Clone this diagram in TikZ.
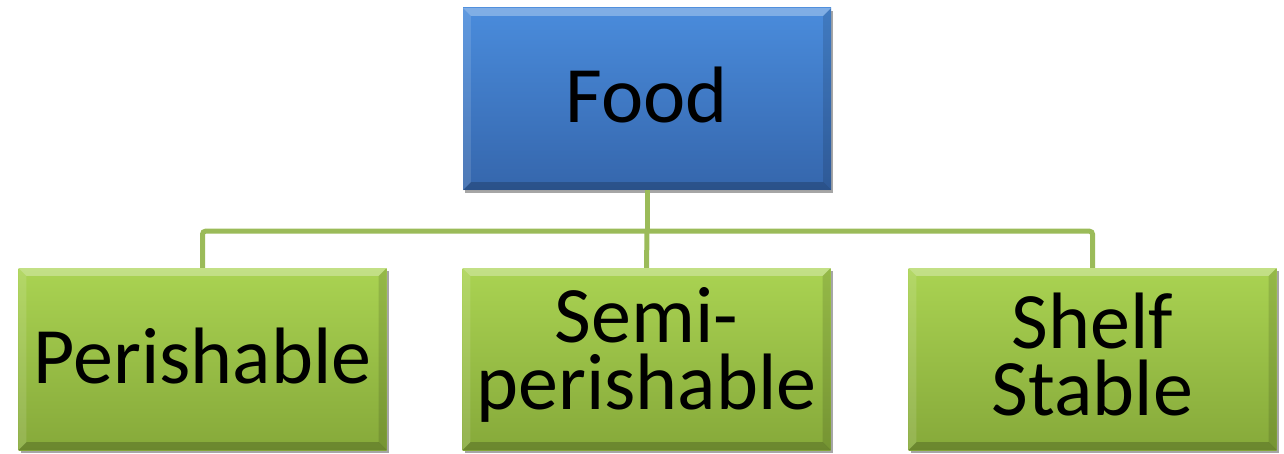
\documentclass[tikz,border=0pt]{standalone}
\usepackage{fontspec}
\setmainfont{Carlito}
\usetikzlibrary{calc,shadows}
\definecolor{bluetop}{HTML}{4A8CDC}
\definecolor{bluebot}{HTML}{3566AC}
\definecolor{greentop}{HTML}{AAD352}
\definecolor{greenbot}{HTML}{86A93A}
\definecolor{conncol}{HTML}{9BBB59}
\tikzset{
  box/.style={minimum width=368pt, minimum height=182pt, inner sep=0pt,
    drop shadow={opacity=0.35, shadow xshift=2pt, shadow yshift=-3pt, fill=black}},
  bluebox/.style={box, top color=bluetop, bottom color=bluebot},
  greenbox/.style={box, top color=greentop, bottom color=greenbot},
  boxtext/.style={inner sep=0pt, align=center, font=\fontsize{80}{67}\selectfont, text=black},
  conn/.style={draw=conncol, line width=5pt, rounded corners=3pt},
}
\begin{document}
\begin{tikzpicture}[x=1pt,y=-1pt]
\useasboundingbox (0,0) rectangle (1284,454);
\fill[white] (0,0) rectangle (1284,454);
\node[bluebox] (f) at (647,99) {};
\node[greenbox] (p) at (202.5,359) {};
\node[greenbox] (s) at (646.5,359) {};
\node[greenbox] (sh) at (1092.5,359) {};
\foreach \n in {f,p,s,sh}{
  \fill[white,opacity=0.30] (\n.north west) -- (\n.north east) -- ($(\n.north east)+(-8,8)$) -- ($(\n.north west)+(8,8)$) -- cycle;
  \fill[black,opacity=0.20] (\n.south west) -- (\n.south east) -- ($(\n.south east)+(-8,-8)$) -- ($(\n.south west)+(8,-8)$) -- cycle;
  \fill[white,opacity=0.12] (\n.north west) -- ($(\n.north west)+(8,8)$) -- ($(\n.south west)+(8,-8)$) -- (\n.south west) -- cycle;
  \fill[black,opacity=0.12] (\n.north east) -- ($(\n.north east)+(-8,8)$) -- ($(\n.south east)+(-8,-8)$) -- (\n.south east) -- cycle;
}
\node[boxtext] (ft) at ($(f.center)+(0,-4)$) {Food};
\node[boxtext] (pt) at ($(p.center)+(0,-3)$) {Perishable};
\node[boxtext] (st) at ($(s.center)+(0,-4)$) {Semi-\\perishable};
\node[boxtext] (sht) at ($(sh.center)+(0,-4)$) {Shelf\\Stable};
\coordinate (hub) at ($(f.south)+(0,41)$);
\draw[conn] (f.south) -- (hub);
\draw[conn] (hub) -| (p.north);
\draw[conn] (hub) -| (sh.north);
\draw[conn] (hub) -- (s.north);
\end{tikzpicture}
\end{document}
